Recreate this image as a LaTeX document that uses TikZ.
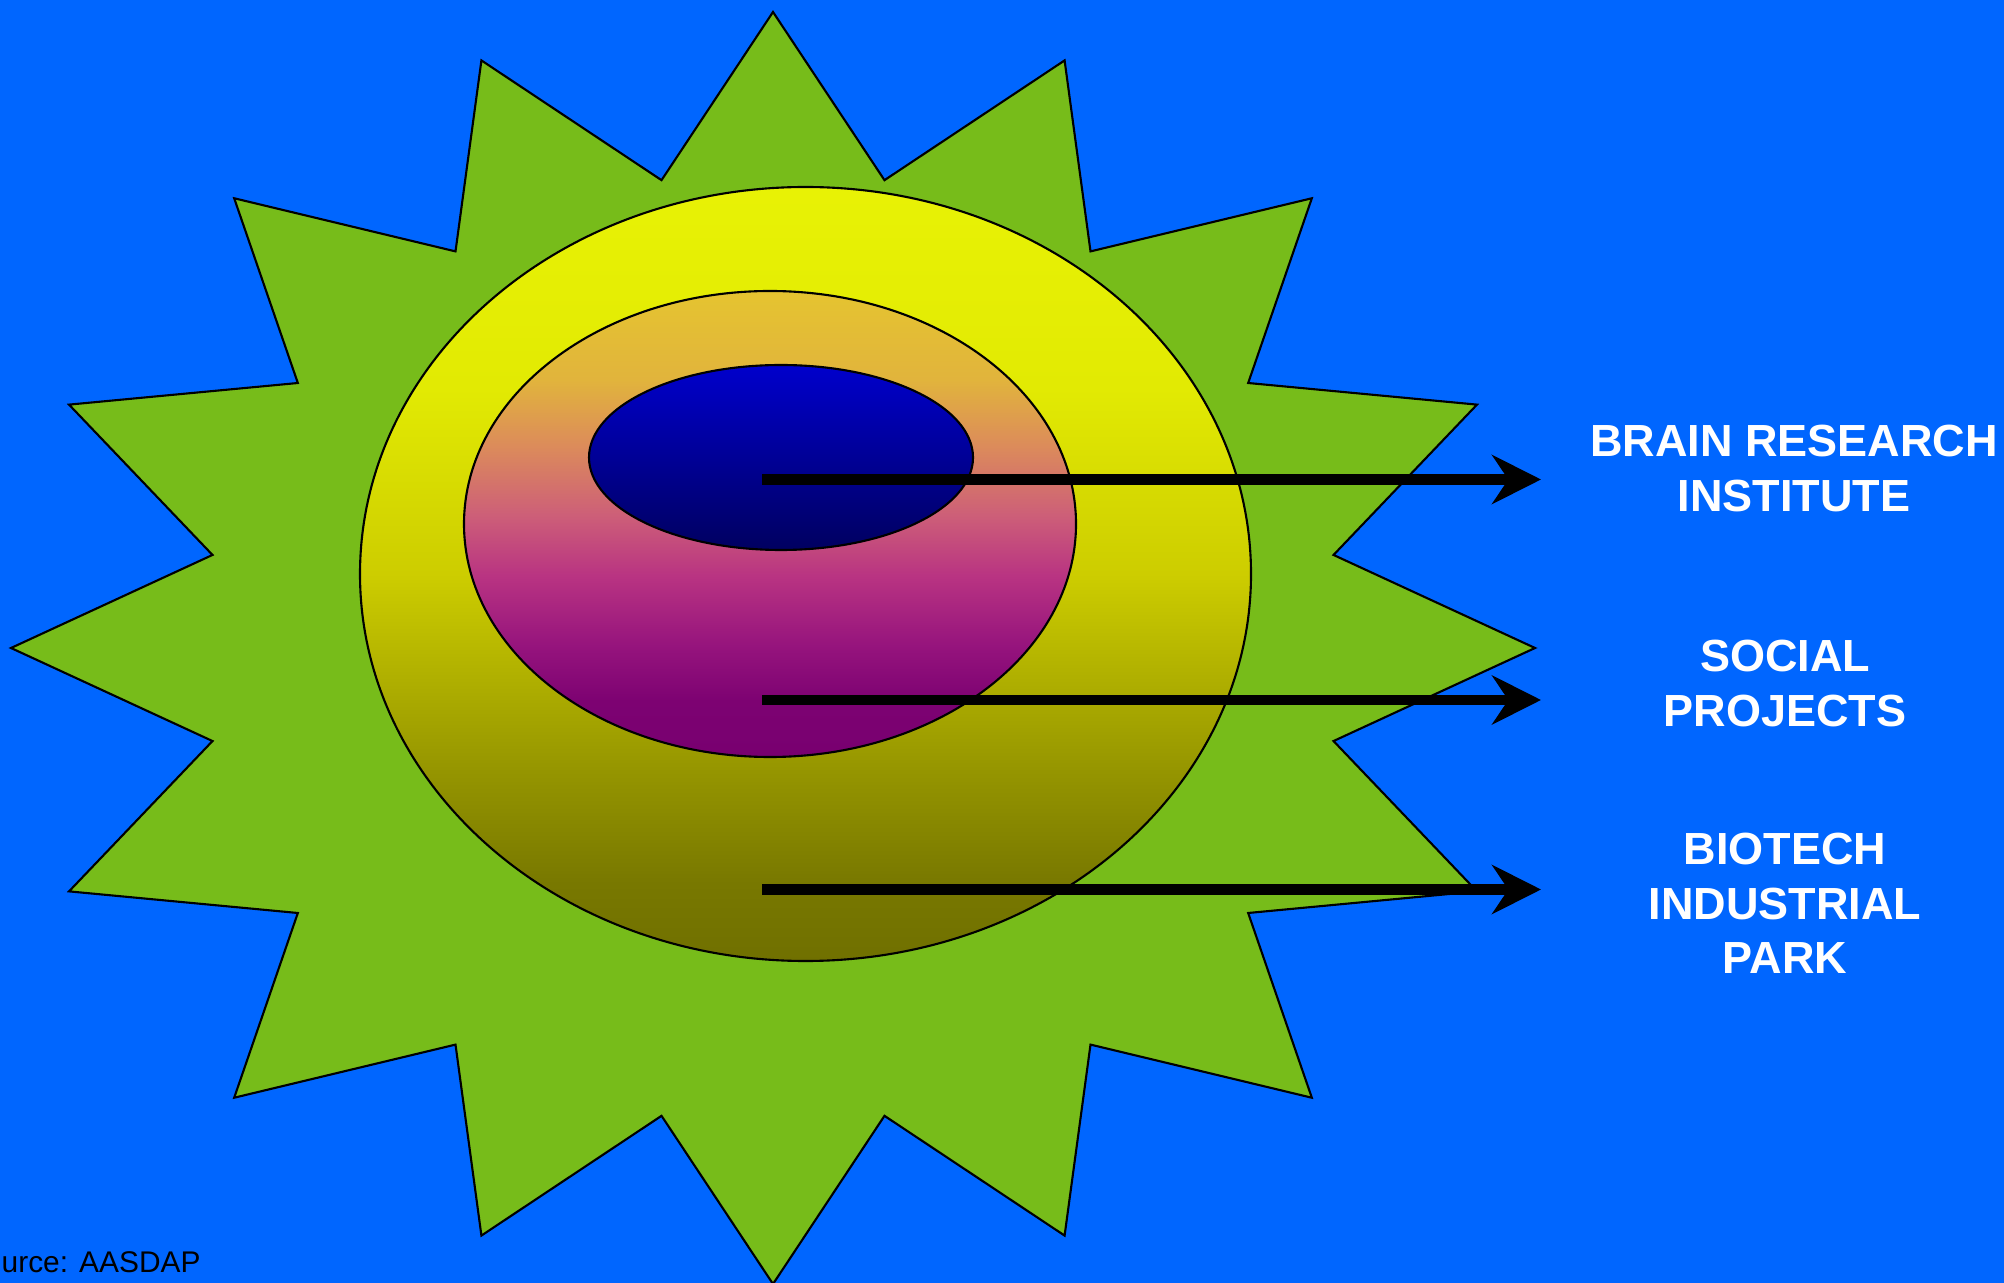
\documentclass[tikz,border=0pt]{standalone}
\usepackage{fontspec}
\setmainfont{Liberation Sans}
\usetikzlibrary{arrows.meta}
\definecolor{sky}{RGB}{0,102,255}
\definecolor{leaf}{RGB}{119,188,26}
\definecolor{yA}{RGB}{112,112,0}
\definecolor{yB}{RGB}{120,120,0}
\definecolor{yC}{RGB}{148,148,0}
\definecolor{yD}{RGB}{205,205,0}
\definecolor{yE}{RGB}{226,234,3}
\definecolor{yF}{RGB}{232,242,5}
\definecolor{mA}{RGB}{120,0,112}
\definecolor{mB}{RGB}{125,2,114}
\definecolor{mC}{RGB}{150,20,125}
\definecolor{mD}{RGB}{185,52,130}
\definecolor{mE}{RGB}{205,95,120}
\definecolor{mF}{RGB}{220,140,90}
\definecolor{mG}{RGB}{225,180,60}
\definecolor{mH}{RGB}{229,196,48}
\definecolor{bA}{RGB}{0,0,96}
\definecolor{bB}{RGB}{0,0,204}
\pgfdeclareverticalshading{yolk}{100bp}{color(0bp)=(yA); color(25bp)=(yA); color(30bp)=(yB);
  color(37bp)=(yC); color(50bp)=(yD); color(62bp)=(yE); color(75bp)=(yF); color(100bp)=(yF)}
\pgfdeclareverticalshading{plum}{100bp}{color(0bp)=(mA); color(25bp)=(mA); color(31bp)=(mB);
  color(37bp)=(mC); color(44.5bp)=(mD); color(51bp)=(mE); color(58.5bp)=(mF); color(65.5bp)=(mG);
  color(75bp)=(mH); color(100bp)=(mH)}
\pgfdeclareverticalshading{core}{100bp}{color(0bp)=(bA); color(25bp)=(bA); color(75bp)=(bB); color(100bp)=(bB)}
\begin{document}
\begin{tikzpicture}[x=0.01cm,y=-0.01cm,
  rim/.style={draw=black,line width=0.6pt},
  feed/.style={line width=2.85pt,-{Stealth[length=13.9pt,width=13.9pt,inset=4.6pt]}},
  tag/.style={text=white,font=\fontsize{12.8}{15.6}\selectfont\bfseries,align=center,inner sep=0pt}]
% page and background
\clip (0,0) rectangle (2004,1283);
\fill[sky] (0,0) rectangle (2004,1283);
% sixteen point star
\begin{scope}[shift={(773,648)}]
\draw[rim,fill=leaf] (90:762 and 636)
  \foreach \k in {1,...,15} { -- ({90+22.5*\k-11.25}:571.5 and 477) -- ({90+22.5*\k}:762 and 636) }
  -- (78.75:571.5 and 477) -- cycle;
\end{scope}
% nested discs
\draw[rim,shade,shading=yolk] (805.5,574) ellipse [x radius=445.5,y radius=387];
\draw[rim,shade,shading=plum] (770,524) ellipse [x radius=306,y radius=233];
\draw[rim,shade,shading=core] (781,457.5) ellipse [x radius=192,y radius=92.5];
% labels
\node[tag] (brain) at (1794,468.5) {BRAIN RESEARCH\\INSTITUTE};
\node[tag] (social) at (1785,683.8) {SOCIAL\\PROJECTS};
\node[tag] (biotech) at (1785,903.3) {BIOTECH\\INDUSTRIAL\\PARK};
\node[anchor=base west,inner sep=0pt,font=\fontsize{8.5}{10.2}\selectfont] (source) at (1,1272.7) {urce: AASDAP};
% arrows
\coordinate (brain-in) at (762,479.5);
\coordinate (brain-out) at (1541,479.5);
\coordinate (social-in) at (762,700);
\coordinate (social-out) at (1541,700);
\coordinate (biotech-in) at (762,889.5);
\coordinate (biotech-out) at (1541,889.5);
\draw[feed] (brain-in) -- (brain-out);
\draw[feed] (social-in) -- (social-out);
\draw[feed] (biotech-in) -- (biotech-out);
\end{tikzpicture}
\end{document}
